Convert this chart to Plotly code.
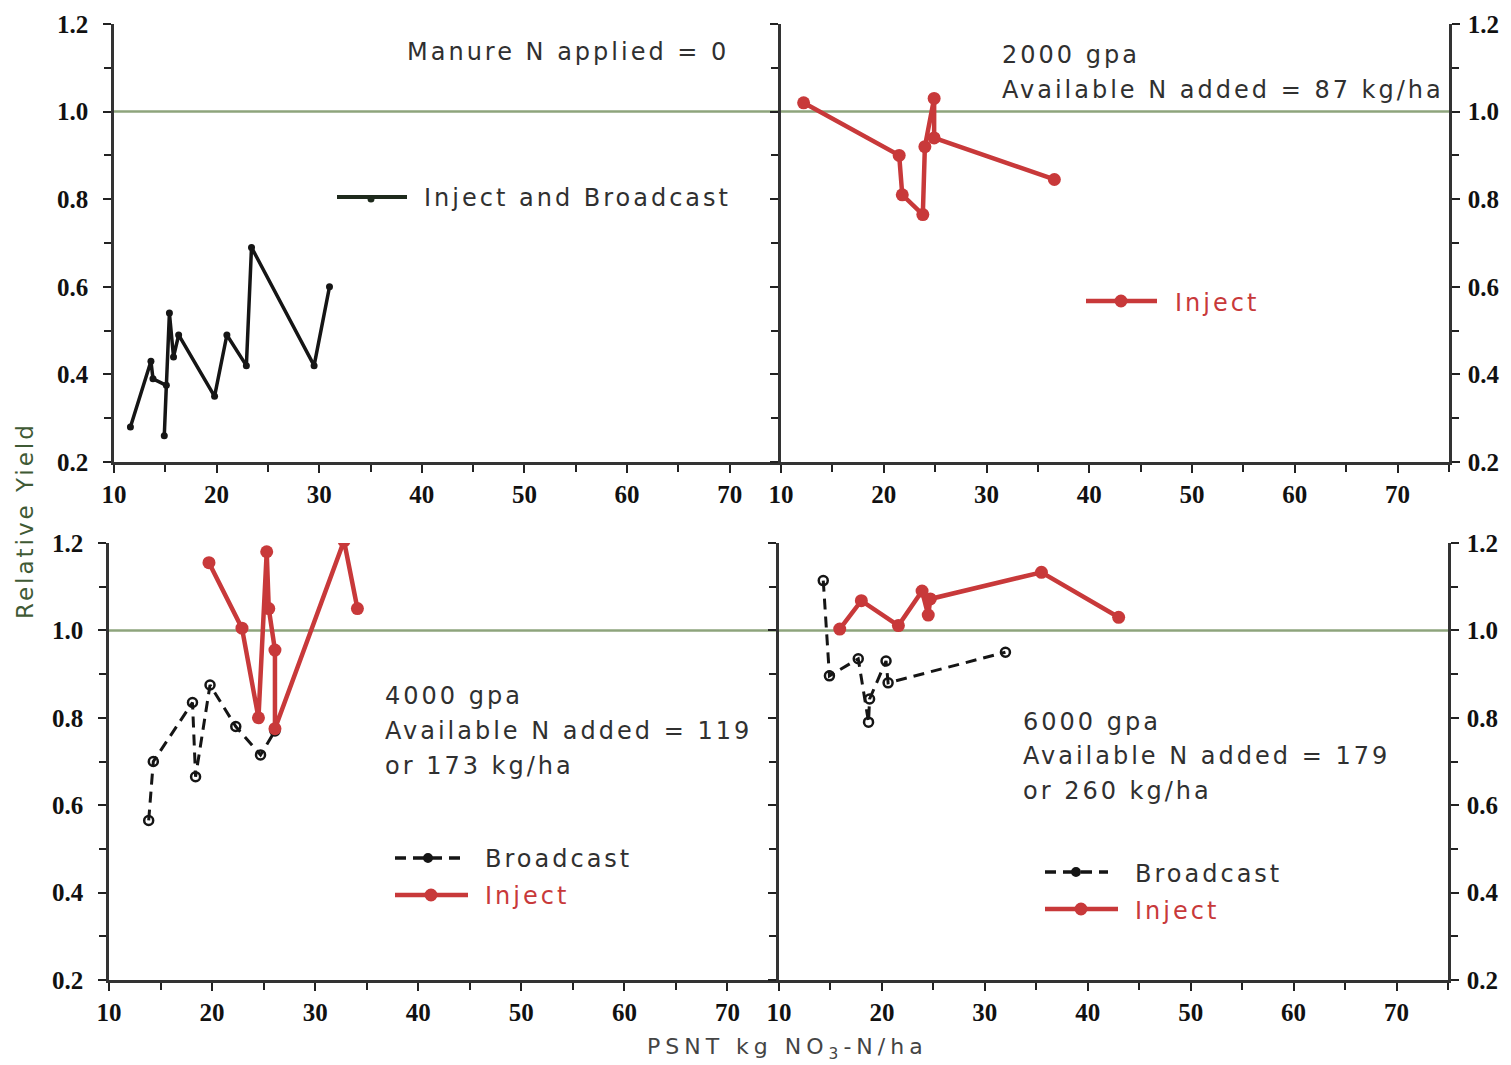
import plotly.graph_objects as go

# ---------------- data ----------------
# Top-left: Manure N applied = 0, Inject and Broadcast
tl_x = [11.6, 13.6, 13.8, 15.1, 14.9, 15.4, 15.8, 16.3, 19.8, 21.0, 22.9, 23.4, 29.5, 31.0]
tl_y = [0.28, 0.43, 0.39, 0.375, 0.26, 0.54, 0.44, 0.49, 0.35, 0.49, 0.42, 0.69, 0.42, 0.60]

# Top-right: 2000 gpa, Inject
tr_x = [12.2, 21.5, 21.8, 23.8, 24.0, 24.9, 24.9, 36.6]
tr_y = [1.02, 0.90, 0.81, 0.765, 0.92, 1.03, 0.94, 0.845]

# Bottom-left: 4000 gpa
bl_inj_x = [19.7, 22.9, 24.5, 25.3, 25.5, 26.1, 26.1, 32.8, 34.1]
bl_inj_y = [1.155, 1.005, 0.80, 1.18, 1.05, 0.955, 0.775, 1.205, 1.05]
bl_bc_x = [13.85, 14.3, 18.1, 18.4, 19.8, 22.3, 24.7, 26.1]
bl_bc_y = [0.565, 0.70, 0.835, 0.665, 0.875, 0.78, 0.715, 0.77]

# Bottom-right: 6000 gpa
br_inj_x = [15.9, 18.0, 21.6, 23.9, 24.5, 24.7, 35.5, 43.0]
br_inj_y = [1.003, 1.068, 1.011, 1.09, 1.035, 1.072, 1.133, 1.03]
br_bc_x = [14.3, 14.9, 17.7, 18.7, 18.8, 20.4, 20.6, 32.0]
br_bc_y = [1.114, 0.896, 0.935, 0.79, 0.843, 0.93, 0.88, 0.95]

x_range = [10, 75]
y_range = [0.2, 1.2]
x_tick_vals = [10, 20, 30, 40, 50, 60, 70]
y_tick_vals = [0.2, 0.4, 0.6, 0.8, 1.0, 1.2]

# ---------------- styling ----------------
W, H = 1511, 1065
OFF = 8  # page body margin
RED = "#c8393a"
BLACK = "#151515"
GREEN_LINE = "#8ea47c"
TEXT = "#303030"


def fx(p):
    return (p - OFF) / W


def fy(p):
    return 1 - (p - OFF) / H


fig = go.Figure()

fig.add_trace(go.Scatter(x=tl_x, y=tl_y, mode="lines+markers", xaxis="x", yaxis="y",
                         line=dict(color=BLACK, width=3.5),
                         marker=dict(color=BLACK, size=7), showlegend=False))
fig.add_trace(go.Scatter(x=tr_x, y=tr_y, mode="lines+markers", xaxis="x2", yaxis="y2",
                         line=dict(color=RED, width=4.5),
                         marker=dict(color=RED, size=13), showlegend=False))
fig.add_trace(go.Scatter(x=bl_bc_x, y=bl_bc_y, mode="lines+markers", xaxis="x3", yaxis="y3",
                         line=dict(color=BLACK, width=3, dash="11px,7px"),
                         marker=dict(color=BLACK, size=9, symbol="circle-open", line=dict(width=2.5)),
                         showlegend=False))
fig.add_trace(go.Scatter(x=bl_inj_x, y=bl_inj_y, mode="lines+markers", xaxis="x3", yaxis="y3",
                         line=dict(color=RED, width=4.5),
                         marker=dict(color=RED, size=13), showlegend=False))
fig.add_trace(go.Scatter(x=br_bc_x, y=br_bc_y, mode="lines+markers", xaxis="x4", yaxis="y4",
                         line=dict(color=BLACK, width=3, dash="11px,7px"),
                         marker=dict(color=BLACK, size=9, symbol="circle-open", line=dict(width=2.5)),
                         showlegend=False))
fig.add_trace(go.Scatter(x=br_inj_x, y=br_inj_y, mode="lines+markers", xaxis="x4", yaxis="y4",
                         line=dict(color=RED, width=4.5),
                         marker=dict(color=RED, size=13), showlegend=False))

tickfont = dict(family="Liberation Serif", size=25, color="#111111", weight="bold")


def xaxis(domain, anchor):
    return dict(domain=domain, anchor=anchor, range=x_range, tickvals=x_tick_vals,
                automargin=False,
                ticks="outside", ticklen=8, tickwidth=2, tickcolor="#222222",
                showline=True, linecolor="#333333", linewidth=2.5,
                showgrid=False, zeroline=False, tickfont=tickfont, ticklabelstandoff=0,
                minor=dict(dtick=5, tick0=10, ticks="outside", ticklen=7, tickwidth=2,
                           tickcolor="#222222", showgrid=False))


def yaxis(domain, anchor, side, mirror, standoff):
    return dict(domain=domain, anchor=anchor, range=y_range, tickvals=y_tick_vals,
                tickformat=".1f", side=side, mirror=mirror, automargin=False,
                ticks="outside", ticklen=8, tickwidth=2, tickcolor="#222222",
                showline=True, linecolor="#333333", linewidth=2.5,
                showgrid=False, zeroline=False, tickfont=tickfont, ticklabelstandoff=standoff,
                minor=dict(dtick=0.1, tick0=0.2, ticks="outside", ticklen=7, tickwidth=2,
                           tickcolor="#222222", showgrid=False))


top_y = [fy(462), fy(24)]
bot_y = [fy(980), fy(543)]

fig.update_layout(
    template="none",
    width=W, height=H, autosize=False,
    margin=dict(l=0, r=0, t=0, b=0, pad=0),
    paper_bgcolor="white", plot_bgcolor="rgba(0,0,0,0)",
    showlegend=False,
    xaxis=xaxis([fx(114), fx(781)], "y"),
    yaxis=yaxis(top_y, "x", "left", False, 10),
    xaxis2=xaxis([fx(781), fx(1449)], "y2"),
    yaxis2=yaxis(top_y, "x2", "right", "ticks", 3),
    xaxis3=xaxis([fx(109), fx(779)], "y3"),
    yaxis3=yaxis(bot_y, "x3", "left", False, 10),
    xaxis4=xaxis([fx(779), fx(1448)], "y4"),
    yaxis4=yaxis(bot_y, "x4", "right", "ticks", 3),
)

shapes = []
# reference lines at relative yield 1.0
shapes.append(dict(type="line", xref="paper", yref="y", x0=fx(114), x1=fx(1449), y0=1.0, y1=1.0,
                   line=dict(color=GREEN_LINE, width=2.5), layer="below"))
shapes.append(dict(type="line", xref="paper", yref="y3", x0=fx(109), x1=fx(1448), y0=1.0, y1=1.0,
                   line=dict(color=GREEN_LINE, width=2.5), layer="below"))


def leg_line(x0, x1, y, color, width, dash="solid"):
    shapes.append(dict(type="line", xref="paper", yref="paper", x0=fx(x0), x1=fx(x1),
                       y0=fy(y), y1=fy(y), line=dict(color=color, width=width, dash=dash)))


def leg_dot(cx, cy, r, color, fill):
    shapes.append(dict(type="circle", xref="paper", yref="paper",
                       x0=fx(cx - r), x1=fx(cx + r), y0=fy(cy + r), y1=fy(cy - r),
                       line=dict(color=color, width=2), fillcolor=fill))


# legend samples
leg_line(337, 407, 197, "#1e2a1c", 4)
leg_dot(371, 199, 2.5, "#1e2a1c", "#1e2a1c")
leg_line(1086, 1157, 301, RED, 4.5)
leg_dot(1121, 301, 5.5, RED, RED)
leg_line(395, 460, 858, BLACK, 3.5, "11px,7px")
leg_dot(428, 858, 4, BLACK, BLACK)
leg_line(395, 468, 895, RED, 4.5)
leg_dot(431, 895, 5.5, RED, RED)
leg_line(1045, 1108, 872, BLACK, 3.5, "11px,7px")
leg_dot(1076, 872, 4, BLACK, BLACK)
leg_line(1045, 1118, 909, RED, 4.5)
leg_dot(1081, 909, 5.5, RED, RED)

fig.update_layout(shapes=shapes)

SP = "letter-spacing:3px"
ann_font = dict(family="DejaVu Sans", size=24, color=TEXT)
red_font = dict(family="DejaVu Sans", size=24, color=RED)
annotations = []


def txt(x, y, s, font=ann_font):
    annotations.append(dict(xref="paper", yref="paper", x=fx(x), y=fy(y),
                            text='<span style="%s">%s</span>' % (SP, s), showarrow=False,
                            xanchor="left", yanchor="middle", font=font))


txt(405, 52, "Manure N applied = 0")
txt(422, 198, "Inject and Broadcast")
txt(1000, 55, "2000 gpa")
txt(1000, 90, "Available N added = 87 kg/ha")
txt(1173, 303, "Inject", red_font)
txt(383, 696, "4000 gpa")
txt(383, 731, "Available N added = 119")
txt(383, 766, "or 173 kg/ha")
txt(483, 859, "Broadcast")
txt(483, 896, "Inject", red_font)
txt(1021, 722, "6000 gpa")
txt(1021, 756, "Available N added = 179")
txt(1021, 791, "or 260 kg/ha")
txt(1133, 874, "Broadcast")
txt(1133, 911, "Inject", red_font)

annotations.append(dict(xref="paper", yref="paper", x=fx(787), y=fy(1048),
                        text='<span style="letter-spacing:5px">PSNT kg NO<sub>3</sub>-N/ha</span>',
                        showarrow=False, xanchor="center", yanchor="middle",
                        font=dict(family="DejaVu Sans", size=22, color="#444444")))
annotations.append(dict(xref="paper", yref="paper", x=fx(25), y=fy(521),
                        text='<span style="letter-spacing:3px">Relative Yield</span>',
                        showarrow=False, textangle=-90,
                        xanchor="center", yanchor="middle",
                        font=dict(family="DejaVu Sans", size=23, color="#3f5a35")))

fig.update_layout(annotations=annotations)

fig.write_html("out.html")
